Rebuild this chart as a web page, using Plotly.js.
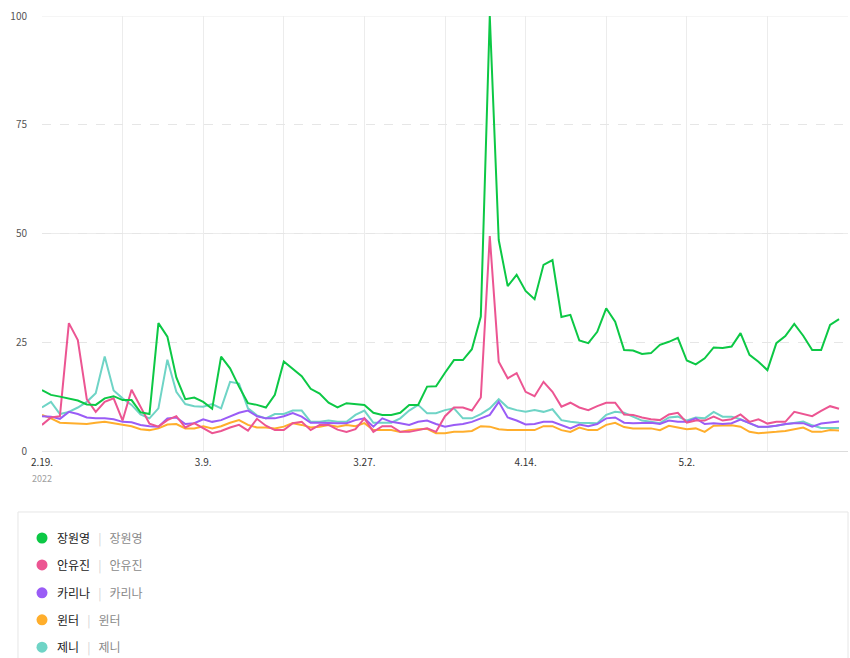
<!DOCTYPE html>
<html>
<head>
<meta charset="utf-8">
<script src="https://cdn.plot.ly/plotly-3.0.1.min.js"></script>
<style>html,body{margin:0;padding:0;background:#fff;}#chart{width:850px;height:658px;}</style>
</head>
<body>
<div id="chart"></div>
<script>
// ---- data (daily, 2022-02-19 .. 2022-05-19) ----
var startDate = '2022-02-19';
var dayCount = 90;

var names = ['장원영', '안유진', '카리나', '윈터', '제니'];
var colors = ['#0cc845', '#ec5592', '#9a5cf6', '#ffae2c', '#6fd4c6'];

var wonyoung = [14.0,12.9,12.5,12.1,11.6,10.7,10.6,12.1,12.6,11.7,
  11.7,8.9,8.5,29.4,26.3,16.9,11.9,12.3,11.3,9.7,
  21.7,19.0,14.8,11.0,10.6,10.0,12.9,20.6,19.0,17.2,
  14.3,13.2,11.1,10.0,11.0,10.8,10.6,8.8,8.3,8.3,
  8.8,10.6,10.6,14.8,14.9,18.0,20.9,20.9,23.4,30.9,
  100,48.5,37.9,40.5,36.8,34.9,42.8,43.9,30.8,31.3,
  25.4,24.8,27.4,32.8,29.7,23.2,23.1,22.3,22.5,24.4,
  25.1,26.0,20.8,19.9,21.3,23.8,23.7,24.0,27.1,22.1,
  20.5,18.6,24.8,26.4,29.2,26.5,23.2,23.2,29.0,30.3];

var yujin = [6.0,7.7,8.0,29.4,25.5,11.9,9.0,11.3,12.1,7.0,
  14.1,10.2,6.3,5.6,7.1,8.0,5.4,6.4,5.2,4.1,
  4.6,5.4,6.0,4.7,7.4,5.8,4.8,4.8,6.4,6.7,
  4.8,6.0,6.0,4.9,4.4,5.0,7.5,4.4,5.7,5.7,
  4.4,4.4,4.8,5.2,4.4,8.0,10.0,10.0,9.3,12.3,
  49.4,20.5,16.7,17.9,13.6,12.6,15.9,13.6,10.2,11.1,
  10.0,9.4,10.3,11.1,11.1,8.4,8.3,7.7,7.3,7.1,
  8.4,8.8,6.5,7.0,7.0,7.9,7.0,7.3,8.4,6.7,
  7.3,6.3,6.7,6.7,9.0,8.5,8.0,9.2,10.3,9.7];

var karina = [8.0,7.9,7.4,9.0,8.5,7.7,7.5,7.5,7.3,6.7,
  6.6,6.0,5.7,5.6,7.5,7.7,6.2,6.4,7.3,6.7,
  7.1,7.9,8.8,9.3,8.0,7.5,7.5,8.0,8.7,7.9,
  6.5,6.5,6.4,6.4,6.4,7.1,7.5,5.6,7.5,6.7,
  6.4,6.0,6.7,7.0,6.2,5.6,6.0,6.2,6.7,7.5,
  8.3,11.3,7.7,7.0,6.1,6.2,6.7,6.7,6.0,5.2,
  6.1,5.7,6.2,7.5,7.7,6.5,6.4,6.4,6.5,6.2,
  7.0,6.7,6.7,7.5,6.2,6.4,6.2,6.4,7.2,6.4,
  5.6,5.6,5.8,6.2,6.4,6.4,5.6,6.3,6.5,6.8];

var winter = [8.3,7.5,6.5,6.4,6.4,6.2,6.5,6.7,6.4,6.0,
  5.7,5.0,4.8,5.2,6.1,6.2,5.2,5.2,5.7,5.2,
  5.7,6.5,7.1,6.0,5.4,5.4,5.2,5.6,6.4,6.0,
  5.4,5.6,6.0,5.6,6.0,5.7,6.4,4.8,4.8,4.8,
  4.4,4.8,5.0,5.1,4.1,4.1,4.4,4.4,4.6,5.7,
  5.6,5.0,4.8,4.8,4.8,4.8,5.7,5.7,4.8,4.4,
  5.4,4.8,4.8,6.0,6.5,5.5,5.2,5.2,5.2,4.8,
  5.8,5.4,5.0,5.2,4.4,5.8,5.9,5.9,5.6,4.4,
  4.1,4.2,4.4,4.6,5.0,5.4,4.4,4.4,4.8,4.7];

var jennie = [10.0,11.3,8.5,9.0,10.0,11.3,13.3,21.7,13.9,12.1,
  10.6,8.4,7.5,9.8,21.0,13.6,10.8,10.3,10.2,10.8,
  9.8,15.9,15.5,9.8,8.2,7.5,8.5,8.5,9.3,9.3,
  6.7,6.7,7.0,6.7,6.7,8.3,9.3,6.5,6.5,6.5,
  7.5,9.3,10.6,8.7,8.7,9.4,9.8,7.5,7.5,8.5,
  9.8,11.9,10.0,9.4,9.0,9.4,9.0,9.6,7.1,6.7,
  6.5,6.5,6.4,8.3,9.0,8.8,7.9,7.0,6.7,6.4,
  7.7,7.9,7.0,7.7,7.5,9.0,7.9,7.9,7.3,6.4,
  5.5,5.5,5.8,6.2,6.4,6.8,5.9,5.3,5.3,5.3];

var seriesValues = [wonyoung, yujin, karina, winter, jennie];

var tickDates = ['2022-02-19','2022-02-28','2022-03-09','2022-03-18','2022-03-27',
  '2022-04-05','2022-04-14','2022-04-23','2022-05-02','2022-05-11'];
var tickLabels = ['2.19.', '', '3.9.', '', '3.27.', '', '4.14.', '', '5.2.', ''];
var yearLabel = '2022';
var yTicks = [0, 25, 50, 75, 100];

// ---- build dates ----
function pad(n){ return (n < 10 ? '0' : '') + n; }
var dates = [];
var d0 = new Date(startDate + 'T00:00:00Z');
for (var i = 0; i < dayCount; i++) {
  var d = new Date(d0.getTime() + i * 86400000);
  dates.push(d.getUTCFullYear() + '-' + pad(d.getUTCMonth() + 1) + '-' + pad(d.getUTCDate()));
}

var FONT = '"Noto Sans CJK KR", "Noto Sans", sans-serif';

var traces = [];
for (var s = seriesValues.length - 1; s >= 0; s--) {
  traces.push({
    type: 'scatter', mode: 'lines', name: names[s],
    x: dates, y: seriesValues[s],
    line: {color: colors[s], width: 2},
    showlegend: false, hoverinfo: 'skip'
  });
}

var shapes = [
  {type:'line', xref:'paper', yref:'y', x0:0, x1:1, y0:50, y1:50, layer:'below', line:{color:'#ececec', width:1}},
  {type:'line', xref:'paper', yref:'y', x0:0, x1:1, y0:100, y1:100, layer:'below', line:{color:'#ececec', width:1}},
  {type:'rect', xref:'paper', yref:'paper', x0:-0.0298, x1:1.0, y0:-0.52, y1:-0.1402, layer:'below',
   line:{color:'#e6e6e6', width:1}, fillcolor:'rgba(0,0,0,0)'}
];

var annotations = [
  {xref:'x', yref:'paper', x:tickDates[0], y:-0.0625, xanchor:'center', yanchor:'middle', showarrow:false,
   text: yearLabel, font:{family:FONT, size:9, color:'#a0a0a0'}}
];
var rowY = [-0.2, -0.262, -0.326, -0.388, -0.451];
for (var k = 0; k < names.length; k++) {
  shapes.push({type:'circle', xref:'paper', yref:'paper', xsizemode:'pixel', ysizemode:'pixel',
    xanchor:0, yanchor:rowY[k], x0:-5.5, x1:5.5, y0:-5.5, y1:5.5,
    fillcolor:colors[k], line:{width:0}});
  annotations.push({
    xref:'paper', yref:'paper', x:0.0161, y:rowY[k], xanchor:'left', yanchor:'middle', showarrow:false,
    text: '<span style="color:#222">' + names[k] + '</span>&nbsp;&nbsp;&nbsp;<span style="color:#d4d4d4">|</span>&nbsp;&nbsp;&nbsp;<span style="color:#8a8a8a">' + names[k] + '</span>',
    font:{family:FONT, size:12, color:'#222'}
  });
}

var layout = {
  width: 850, height: 658,
  margin: {l: 42, r: 2, t: 16, b: 207, pad: 0},
  paper_bgcolor: '#fff', plot_bgcolor: '#fff',
  showlegend: false,
  font: {family: FONT, size: 10, color: '#555'},
  xaxis: {
    type: 'date', range: ['2022-02-19', '2022-05-20'],
    tickmode: 'array', tickvals: tickDates, ticktext: tickLabels,
    showgrid: true, gridcolor: '#ececec', gridwidth: 1,
    showline: true, linecolor: '#dcdcdc', linewidth: 1,
    zeroline: false, ticks: '', ticklabelstandoff: 2,
    tickfont: {family: FONT, size: 10, color: '#333'},
    fixedrange: true
  },
  yaxis: {
    range: [0, 100], tickmode: 'array', tickvals: yTicks,
    showgrid: true, gridcolor: '#e6e6e6', griddash: 'dash', gridwidth: 1,
    zeroline: false, showline: false, ticks: '',
    ticklabelstandoff: 14,
    tickfont: {family: FONT, size: 10, color: '#555'},
    fixedrange: true
  },
  shapes: shapes,
  annotations: annotations
};

Plotly.newPlot('chart', traces, layout, {displayModeBar: false, staticPlot: true});
</script>
</body>
</html>
